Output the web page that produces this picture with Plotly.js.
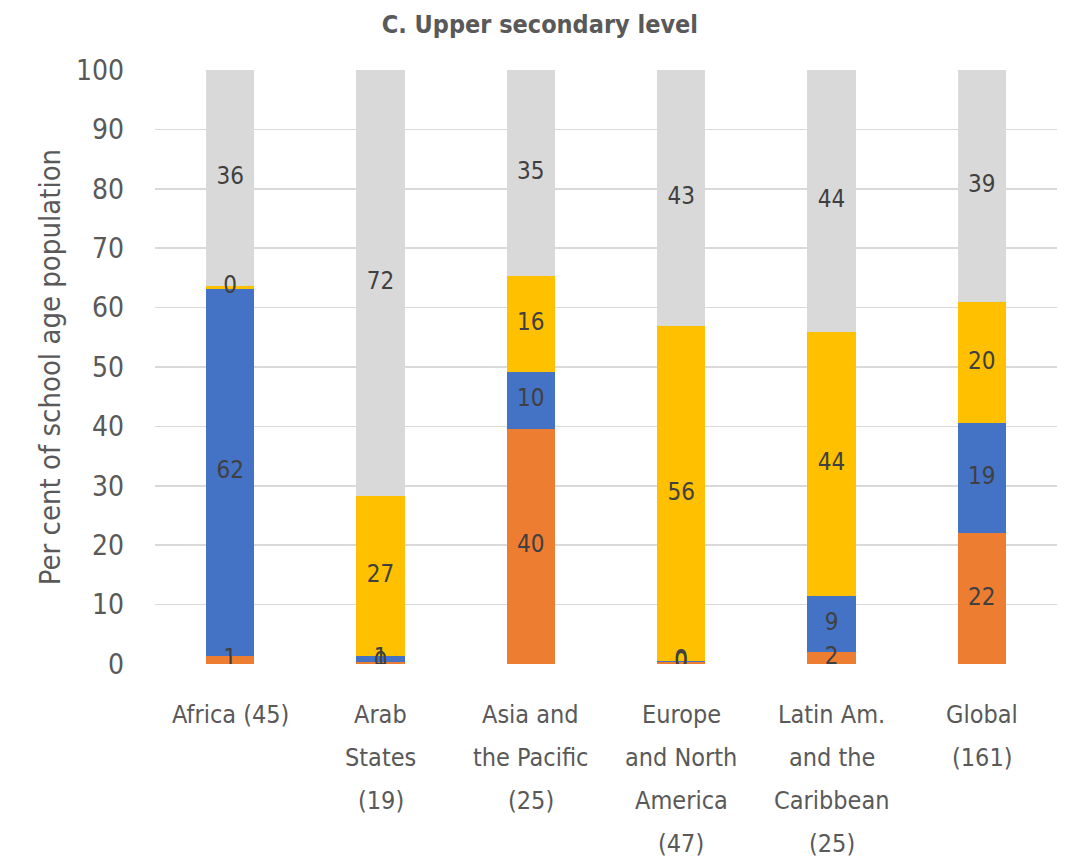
<!DOCTYPE html>
<html><head><meta charset="utf-8">
<script src="https://cdn.plot.ly/plotly-3.0.1.min.js"></script>
<style>html,body{margin:0;padding:0;background:#fff;}#chart{width:1069px;height:863px;}</style>
</head><body><div id="chart"></div>
<script>
const categories = ["Africa (45)", "Arab States (19)", "Asia and the Pacific (25)", "Europe and North America (47)", "Latin Am. and the Caribbean (25)", "Global (161)"];
const labelLines = [["Africa (45)"], ["Arab", "States", "(19)"], ["Asia and", "the Pacific", "(25)"], ["Europe", "and North", "America", "(47)"], ["Latin Am.", "and the", "Caribbean", "(25)"], ["Global", "(161)"]];
const seriesNames = ["Series 1", "Series 2", "Series 3", "Series 4"];
const orangeVals = [1.4, 0.3, 39.6, 0.4, 2.1, 22.0];
const blueVals = [61.8, 1.0, 9.6, 0.1, 9.4, 18.6];
const yellowVals = [0.4, 27.0, 16.2, 56.4, 44.4, 20.3];
const grayVals = [36.4, 71.7, 34.6, 43.1, 44.1, 39.1];
const yTicks = [0, 10, 20, 30, 40, 50, 60, 70, 80, 90, 100];

const colors = ["#ED7D31", "#4472C4", "#FFC000", "#D9D9D9"];
const series = [orangeVals, blueVals, yellowVals, grayVals];
const FONT = "'DejaVu Sans Condensed', 'Liberation Sans Narrow', sans-serif";

const traces = series.map((vals, i) => ({
  type: "bar", name: seriesNames[i], x: categories, y: vals,
  marker: {color: colors[i]}, hoverinfo: "skip", showlegend: false
}));

// data labels at segment midpoints
const lx = [], ly = [], lt = [];
categories.forEach((c, j) => {
  let base = 0;
  series.forEach(vals => {
    const v = vals[j];
    lx.push(c); ly.push(base + v / 2); lt.push(String(Math.round(v)));
    base += v;
  });
});
traces.push({type: "scatter", mode: "text", x: lx, y: ly, text: lt,
  textfont: {family: FONT, size: 24, color: "#404040"}, hoverinfo: "skip", showlegend: false});

const annotations = [];
categories.forEach((c, j) => {
  labelLines[j].forEach((line, k) => {
    annotations.push({x: c, xref: "x", y: 0, yref: "paper", yanchor: "middle", yshift: -50 - k * 43,
      text: line, showarrow: false, font: {family: FONT, size: 25, color: "#595959"}});
  });
});

const layout = {
  width: 1069, height: 863,
  margin: {l: 155, r: 12, t: 70, b: 199},
  paper_bgcolor: "#fff", plot_bgcolor: "#fff",
  barmode: "stack", bargap: 0.68,
  title: {text: "<b>C. Upper secondary level</b>", x: 0.505, xanchor: "center", y: 0.972, yanchor: "middle",
    font: {family: FONT, size: 25, color: "#595959"}},
  xaxis: {showticklabels: false, showgrid: false, zeroline: false, showline: false, fixedrange: true},
  yaxis: {range: [0, 100], tickvals: yTicks, showgrid: true, gridcolor: "#D9D9D9", gridwidth: 1.5,
    zeroline: false, showline: false, ticks: "", ticklabelstandoff: 30,
    tickfont: {family: FONT, size: 28, color: "#595959"},
    title: {text: "Per cent of school age population", standoff: 6, font: {family: FONT, size: 29, color: "#595959"}}},
  annotations: annotations
};
Plotly.newPlot("chart", traces, layout, {staticPlot: true, displayModeBar: false});
</script></body></html>
